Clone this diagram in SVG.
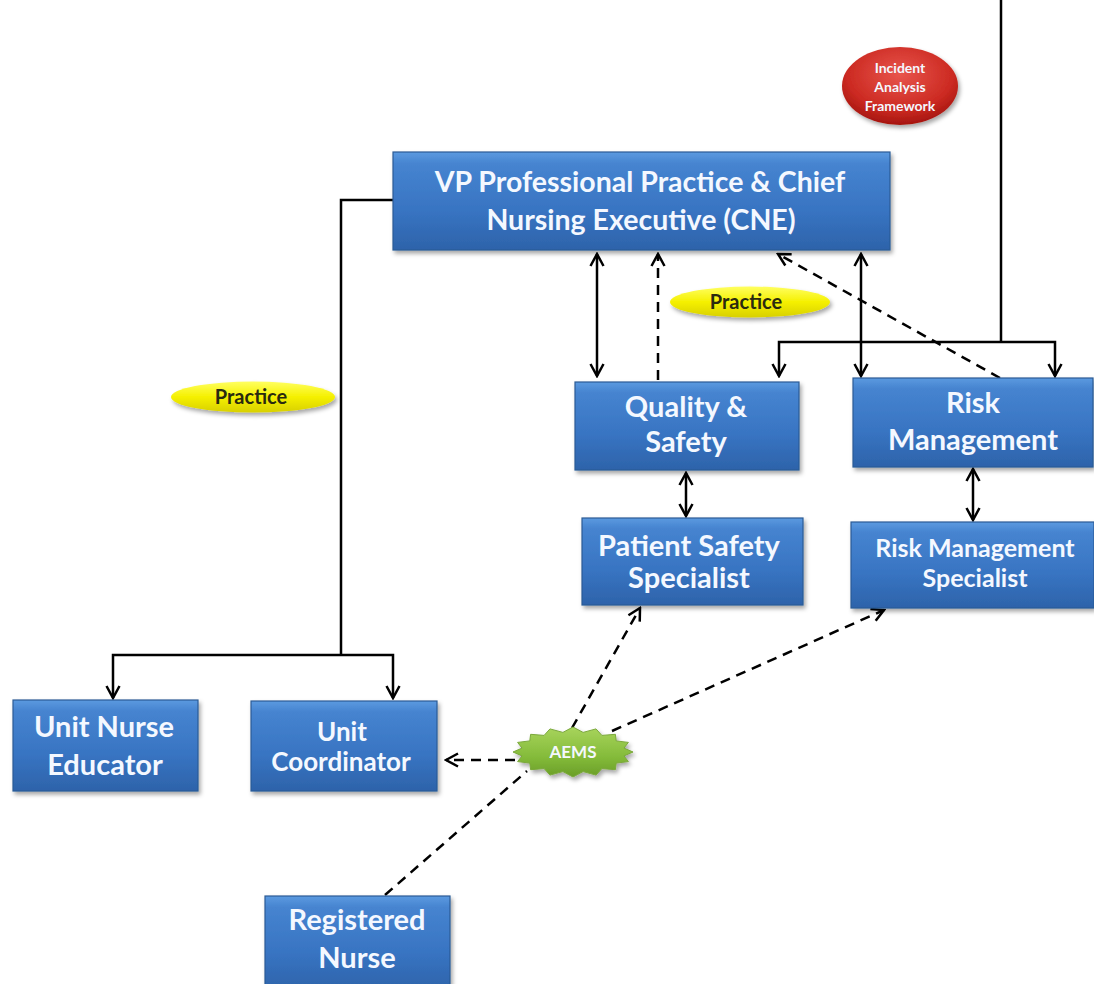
<svg xmlns="http://www.w3.org/2000/svg" width="1094" height="984" viewBox="0 0 1094 984">
<style>
.box{fill:url(#blue);stroke:#2b5b96;stroke-width:1.2;filter:url(#sh)}
.bt{font-family:Lato,"Open Sans","Liberation Sans",sans-serif;font-weight:bold;fill:#f4f8ff;text-anchor:middle}
.yl{fill:url(#yel);filter:url(#sh)}
.yt{font-family:Lato,"Open Sans","Liberation Sans",sans-serif;font-weight:bold;fill:#2a2a10;text-anchor:middle;font-size:20px}
.ln{fill:none;stroke:#000;stroke-width:2.5}
.ds{fill:none;stroke:#000;stroke-width:2.5;stroke-dasharray:10 7}
</style>
<defs>
<linearGradient id="blue" x1="0" y1="0" x2="0" y2="1">
<stop offset="0" stop-color="#5c9ae0"/><stop offset="0.12" stop-color="#4684d0"/><stop offset="0.6" stop-color="#3874c2"/><stop offset="1" stop-color="#2d63aa"/>
</linearGradient>
<linearGradient id="yel" x1="0" y1="0" x2="0" y2="1">
<stop offset="0" stop-color="#ffff60"/><stop offset="0.5" stop-color="#f5f000"/><stop offset="1" stop-color="#d8d000"/>
</linearGradient>
<radialGradient id="red" cx="0.5" cy="0.35" r="0.65">
<stop offset="0" stop-color="#e8554c"/><stop offset="0.7" stop-color="#cc2a22"/><stop offset="1" stop-color="#a5150f"/>
</radialGradient>
<linearGradient id="grn" x1="0" y1="0" x2="0" y2="1">
<stop offset="0" stop-color="#a8d45c"/><stop offset="0.6" stop-color="#84bb3a"/><stop offset="1" stop-color="#6a9e28"/>
</linearGradient>
<filter id="sh" x="-10%" y="-10%" width="125%" height="135%">
<feDropShadow dx="2" dy="3" stdDeviation="2" flood-color="#000" flood-opacity="0.35"/>
</filter>
<marker id="arr" viewBox="0 0 16 16" refX="14" refY="8" markerWidth="16" markerHeight="16" markerUnits="userSpaceOnUse" orient="auto-start-reverse">
<path d="M2,1.5 L14,8 L2,14.5" fill="none" stroke="#000" stroke-width="2.5"/>
</marker>
</defs>
<rect width="1094" height="984" fill="#fff"/>

<g id="connectors">
<path class="ln" d="M393,200 H341 V655"/>
<path class="ln" d="M341,655 H113 V698" marker-end="url(#arr)"/>
<path class="ln" d="M341,655 H393 V698" marker-end="url(#arr)"/>
<path class="ln" d="M1001,0 V342"/>
<path class="ln" d="M1001,342 H779 V376" marker-end="url(#arr)"/>
<path class="ln" d="M1001,342 H1055 V376" marker-end="url(#arr)"/>
<path class="ln" d="M597,254 V376" marker-start="url(#arr)" marker-end="url(#arr)"/>
<path class="ds" d="M658,380 V254" marker-end="url(#arr)"/>
<path class="ln" d="M861,254 V376" marker-start="url(#arr)" marker-end="url(#arr)"/>
<path class="ds" d="M1000,378 L778,254" marker-end="url(#arr)"/>
<path class="ln" d="M686,473 V516" marker-start="url(#arr)" marker-end="url(#arr)"/>
<path class="ln" d="M973,469 V520" marker-start="url(#arr)" marker-end="url(#arr)"/>
<path class="ds" d="M515,760 H446" marker-end="url(#arr)"/>
<path class="ds" d="M572,728 L640,608" marker-end="url(#arr)"/>
<path class="ds" d="M612,731 L884,610" marker-end="url(#arr)"/>
<path class="ds" d="M385,895 L527,771"/>
</g>

<g id="incident">
<ellipse cx="900" cy="86" rx="58" ry="39" fill="url(#red)" filter="url(#sh)"/>
<text class="bt" font-size="14"><tspan x="900" y="73">Incident</tspan><tspan x="900" y="92">Analysis</tspan><tspan x="900" y="111">Framework</tspan></text>
</g>

<g id="vp">
<rect class="box" x="393" y="152" width="497" height="98"/>
<text class="bt" font-size="28.5"><tspan x="640" y="192">VP Professional Practice &amp; Chief</tspan><tspan x="641" y="230">Nursing Executive (CNE)</tspan></text>
</g>

<g id="practice1">
<ellipse class="yl" cx="253" cy="397" rx="82" ry="15.5"/>
<text class="yt" x="251" y="404">Practice</text>
</g>

<g id="practice2">
<ellipse class="yl" cx="750" cy="302" rx="80" ry="15.5"/>
<text class="yt" x="746" y="309">Practice</text>
</g>

<g id="quality">
<rect class="box" x="575" y="382" width="224" height="88"/>
<text class="bt" font-size="29"><tspan x="686" y="417">Quality &amp;</tspan><tspan x="686" y="452">Safety</tspan></text>
</g>

<g id="risk">
<rect class="box" x="853" y="378" width="240" height="89"/>
<text class="bt" font-size="29"><tspan x="973" y="413">Risk</tspan><tspan x="973" y="450">Management</tspan></text>
</g>

<g id="pss">
<rect class="box" x="582" y="518" width="221" height="87"/>
<text class="bt" font-size="29"><tspan x="689" y="556">Patient Safety</tspan><tspan x="689" y="588">Specialist</tspan></text>
</g>

<g id="rms">
<rect class="box" x="851" y="522" width="243" height="86"/>
<text class="bt" font-size="25"><tspan x="975" y="557">Risk Management</tspan><tspan x="975" y="587">Specialist</tspan></text>
</g>

<g id="une">
<rect class="box" x="13" y="700" width="185" height="91"/>
<text class="bt" font-size="29"><tspan x="104" y="737">Unit Nurse</tspan><tspan x="105" y="775">Educator</tspan></text>
</g>

<g id="uc">
<rect class="box" x="251" y="701" width="186" height="90"/>
<text class="bt" font-size="26"><tspan x="342" y="741">Unit</tspan><tspan x="341" y="771">Coordinator</tspan></text>
</g>

<g id="rn">
<rect class="box" x="265" y="896" width="185" height="95"/>
<text class="bt" font-size="29"><tspan x="357" y="930">Registered</tspan><tspan x="357" y="968">Nurse</tspan></text>
</g>

<g id="aems">
<polygon transform="translate(573,752)" fill="url(#grn)" stroke="#7aa83a" stroke-width="1" stroke-linejoin="round" filter="url(#sh)" points="60,0 51,3.9 55.4,9.6 43.2,11.1 42.4,17.7 28.9,16.6 23,23.1 10.1,19.6 0,25 -10.1,19.6 -23,23.1 -28.9,16.6 -42.4,17.7 -43.2,11.1 -55.4,9.6 -51,3.9 -60,0 -51,-3.9 -55.4,-9.6 -43.2,-11.1 -42.4,-17.7 -28.9,-16.6 -23,-23.1 -10.1,-19.6 0,-25 10.1,-19.6 23,-23.1 28.9,-16.6 42.4,-17.7 43.2,-11.1 55.4,-9.6 51,-3.9"/>
<text class="bt" font-size="17" x="573" y="758">AEMS</text>
</g>
</svg>
